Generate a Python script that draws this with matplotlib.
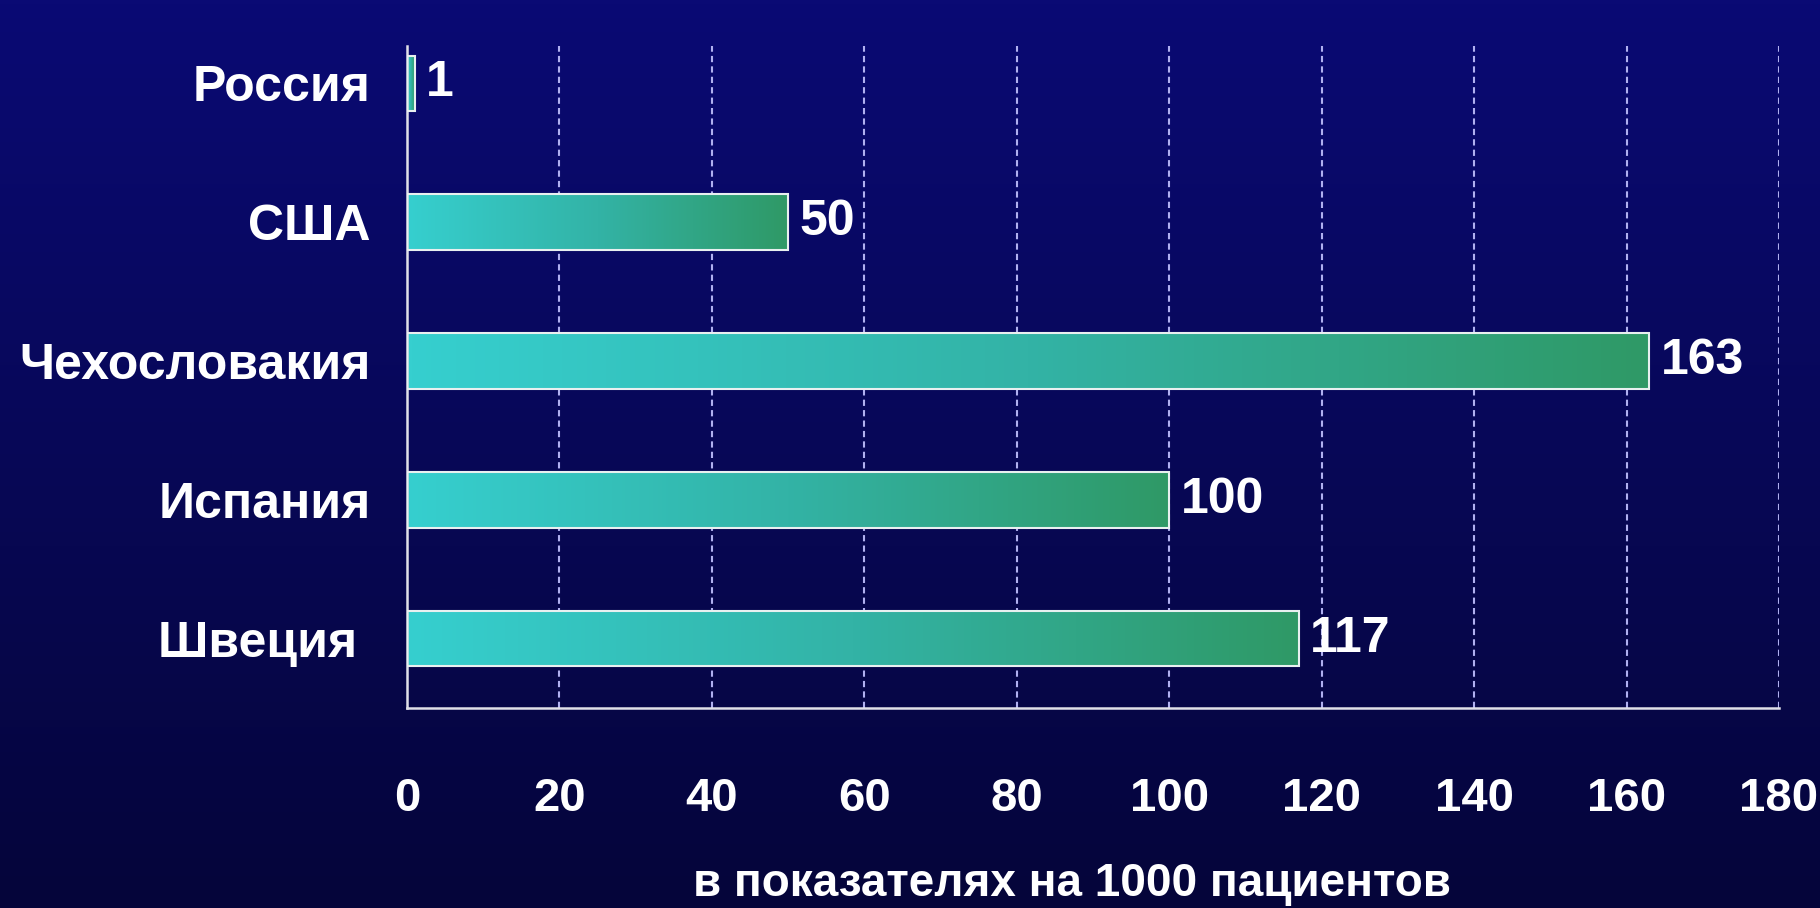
import numpy as np
import matplotlib.pyplot as plt
from matplotlib.colors import LinearSegmentedColormap

countries = ['Россия', 'США', 'Чехословакия', 'Испания', 'Швеция ']
values = [1, 50, 163, 100, 117]
xticks = [0, 20, 40, 60, 80, 100, 120, 140, 160, 180]
xlabel = 'в показателях на 1000 пациентов'

plt.rcParams['font.family'] = ['Liberation Sans Narrow', 'Liberation Sans', 'DejaVu Sans']

fig = plt.figure(figsize=(18.2, 9.08), dpi=100)

# background gradient
bg = fig.add_axes([0, 0, 1, 1])
bg_cmap = LinearSegmentedColormap.from_list('bg', ['#0a0a74', '#05053a'])
bg.imshow(np.linspace(0, 1, 256).reshape(-1, 1), cmap=bg_cmap, aspect='auto', extent=[0, 1, 0, 1])
bg.axis('off')

# axes: left 407, right 1779, top 46, bottom 708 (px)
W, H = 1820, 908
ax = fig.add_axes([407 / W, 1 - 708 / H, (1779 - 407) / W, (708 - 46) / H])
ax.patch.set_alpha(0)

bar_cmap = LinearSegmentedColormap.from_list('bar', ['#36cfcf', '#33b3a6', '#2f9966'])
grad = np.linspace(0, 1, 256).reshape(1, -1)
h = 0.40
ypos = np.arange(len(countries))
for y, v in zip(ypos, values):
    ax.imshow(grad, cmap=bar_cmap, aspect='auto', extent=[0, v, y + h / 2, y - h / 2], zorder=2)
ax.barh(ypos, values, height=h, color='none', edgecolor='#e8f0f0', linewidth=1.5, zorder=3)

for y, v in zip(ypos, values):
    ax.text(v + 1.5, y, str(v), color='white', fontsize=36, fontweight='bold', va='center', ha='left')

ax.set_xlim(0, 180)
ax.set_ylim(4.5, -0.27)
ax.set_xticks(xticks)
ax.set_xticklabels([str(t) for t in xticks])
ax.set_yticks(ypos)
ax.set_yticklabels(countries)
ax.tick_params(axis='x', length=0, pad=50, labelsize=34, colors='white')
ax.tick_params(axis='y', length=0, pad=26, labelsize=36, colors='white')
for lab in ax.get_xticklabels() + ax.get_yticklabels():
    lab.set_fontweight('bold')

ax.grid(axis='x', color='#b0b0f0', linestyle=(0, (3, 2)), linewidth=1.5, zorder=1)
ax.set_axisbelow(True)
for s in ['top', 'right']:
    ax.spines[s].set_visible(False)
for s in ['left', 'bottom']:
    ax.spines[s].set_color('#e0e0e8')
    ax.spines[s].set_linewidth(1.8)

fig.text(1072 / W, 1 - 884 / H, xlabel, color='white', fontsize=33, fontweight='bold',
         ha='center', va='center')

fig.savefig('out.png', dpi=100)
